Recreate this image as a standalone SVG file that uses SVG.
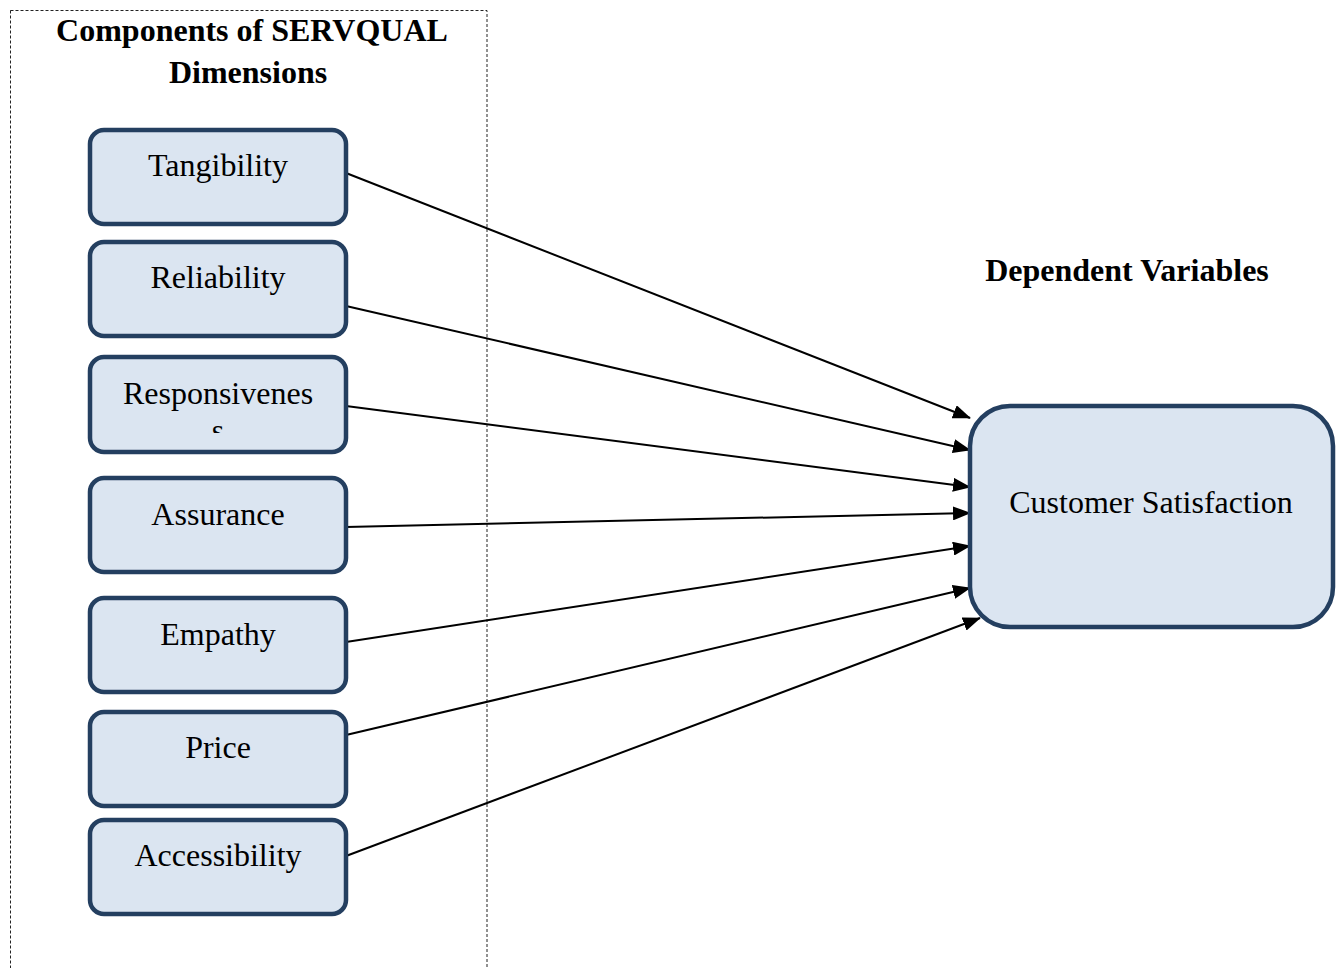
<svg xmlns="http://www.w3.org/2000/svg" width="1337" height="968" viewBox="0 0 1337 968">
<style>
.box{fill:#DBE5F1;stroke:#243F60;stroke-width:4.5}
.lbl{font-family:"Liberation Serif","Times New Roman",serif;font-size:32px;fill:#000;text-anchor:middle}
.hd{font-family:"Liberation Serif","Times New Roman",serif;font-size:32px;font-weight:bold;fill:#000;text-anchor:middle}
.con{stroke:#000;stroke-width:2;fill:none;marker-end:url(#ah)}
</style>
<defs>
<marker id="ah" markerWidth="18" markerHeight="14" refX="17" refY="7" orient="auto" markerUnits="userSpaceOnUse">
<path d="M0,0 L18,7 L0,14 Z" fill="#000"/>
</marker>
<clipPath id="clipResp"><rect x="92" y="359" width="252" height="74"/></clipPath>
</defs>
<rect x="10.5" y="10.5" width="476.5" height="970" fill="none" stroke="#222" stroke-width="1" stroke-dasharray="3,2"/>
<g id="title">
<text class="hd" x="252" y="41">Components of SERVQUAL</text>
<text class="hd" x="248" y="83">Dimensions</text>
</g>
<g id="dep-title"><text class="hd" x="1127" y="281">Dependent Variables</text></g>
<g id="connectors">
<line class="con" x1="346" y1="173" x2="970" y2="418"/>
<line class="con" x1="346" y1="306" x2="970" y2="450"/>
<line class="con" x1="346" y1="406" x2="970" y2="487"/>
<line class="con" x1="346" y1="527" x2="970" y2="513"/>
<line class="con" x1="346" y1="642" x2="970" y2="546"/>
<line class="con" x1="346" y1="735" x2="970" y2="588"/>
<line class="con" x1="346" y1="856" x2="980" y2="618"/>
</g>
<g id="tangibility"><rect class="box" x="90" y="130" width="256" height="94" rx="14"/><text class="lbl" x="218" y="176">Tangibility</text></g>
<g id="reliability"><rect class="box" x="90" y="242" width="256" height="94" rx="14"/><text class="lbl" x="218" y="288">Reliability</text></g>
<g id="responsiveness"><rect class="box" x="90" y="357" width="256" height="95" rx="14"/><g clip-path="url(#clipResp)"><text class="lbl" x="218" y="404">Responsivenes</text><text class="lbl" x="218" y="441">s</text></g></g>
<g id="assurance"><rect class="box" x="90" y="478" width="256" height="94" rx="14"/><text class="lbl" x="218" y="525">Assurance</text></g>
<g id="empathy"><rect class="box" x="90" y="598" width="256" height="94" rx="14"/><text class="lbl" x="218" y="645">Empathy</text></g>
<g id="price"><rect class="box" x="90" y="712" width="256" height="94" rx="14"/><text class="lbl" x="218" y="758">Price</text></g>
<g id="accessibility"><rect class="box" x="90" y="820" width="256" height="94" rx="14"/><text class="lbl" x="218" y="866">Accessibility</text></g>
<g id="customer-satisfaction"><rect class="box" x="970" y="406" width="363" height="221" rx="40"/><text class="lbl" x="1151" y="513">Customer Satisfaction</text></g>
</svg>
